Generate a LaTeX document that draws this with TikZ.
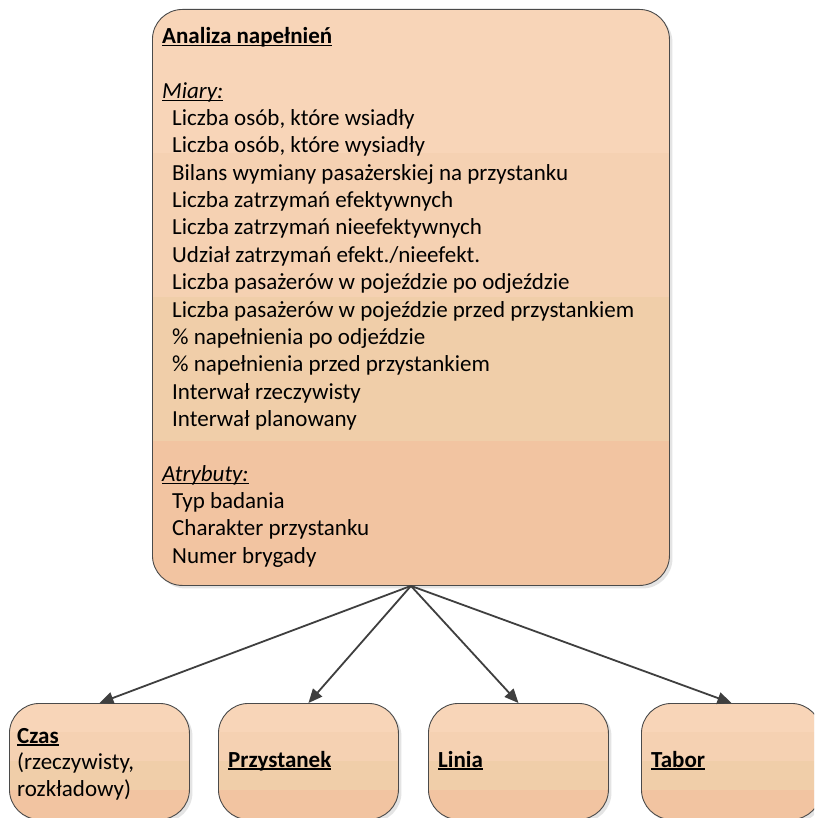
\documentclass[tikz,border=0pt]{standalone}
\usepackage{fontspec}
\setmainfont{Carlito}
\usetikzlibrary{arrows.meta,calc}

\definecolor{bandA}{HTML}{F8D5B8}
\definecolor{bandB}{HTML}{F5D1B2}
\definecolor{bandC}{HTML}{F0CEA9}
\definecolor{bandD}{HTML}{F2C4A1}
\definecolor{edgegray}{HTML}{4A4A4A}
\definecolor{arrowgray}{HTML}{3F3F3F}
\definecolor{shadowgray}{HTML}{E4E4E4}

% underline at a fixed depth below the baseline
\newsavebox\ulbox
\newcommand{\ulin}[1]{\sbox\ulbox{#1}\rlap{\rule[-2.8pt]{\wd\ulbox}{1.4pt}}\usebox\ulbox}

\tikzset{
  bands/.style={path picture={
    \path (path picture bounding box.north west) coordinate (ppNW)
          (path picture bounding box.south east) coordinate (ppSE);
    \foreach \c [count=\k from 0] in {bandA,bandB,bandC,bandD}{
      \pgfmathsetmacro\ta{\k/4}
      \pgfmathsetmacro\tb{(\k+1)/4}
      \fill[\c, sharp corners] ($(ppNW)!\ta!(ppNW|-ppSE)$) rectangle ($(ppSE|-ppNW)!\tb!(ppSE)$);
    }}},
  entity/.style={draw=edgegray, line width=0.9pt, rounded corners=30pt,
    inner sep=0pt, anchor=north west, bands,
    preaction={fill=shadowgray, transform canvas={shift={(3pt,-3pt)}}}},
  txt/.style={anchor=base west, inner sep=0pt,
    font=\fontsize{23}{27.35}\selectfont},
  conn/.style={draw=arrowgray, line width=1.8pt,
    -{Triangle[length=14pt,width=12pt]}},
}

\begin{document}
\begin{tikzpicture}[x=1pt,y=-1pt]
  \clip (0,0) rectangle (814,818);
  \fill[white] (0,0) rectangle (814,818);

  % fact box
  \node[entity, minimum width=517pt, minimum height=576pt] (fact) at (152,9) {};
  \node[txt] (title) at (162,43.5) {\ulin{\textbf{Analiza napełnień}}};
  \node[txt] (miary) at (162,{43.5+27.35*2}) {\ulin{\textit{Miary:}}};
  \foreach \t [count=\i from 3] in {
      {Liczba osób, które wsiadły},
      {Liczba osób, które wysiadły},
      {Bilans wymiany pasażerskiej na przystanku},
      {Liczba zatrzymań efektywnych},
      {Liczba zatrzymań nieefektywnych},
      {Udział zatrzymań efekt./nieefekt.},
      {Liczba pasażerów w pojeździe po odjeździe},
      {Liczba pasażerów w pojeździe przed przystankiem},
      {\% napełnienia po odjeździe},
      {\% napełnienia przed przystankiem},
      {Interwał rzeczywisty},
      {Interwał planowany}}
    \node[txt] (m\i) at (172,{43.5+27.35*\i}) {\t};
  \node[txt] (atrybuty) at (162,{43.5+27.35*16}) {\ulin{\textit{Atrybuty:}}};
  \foreach \t [count=\i from 17] in {
      {Typ badania},
      {Charakter przystanku},
      {Numer brygady}}
    \node[txt] (a\i) at (172,{43.5+27.35*\i}) {\t};

  % dimension boxes
  \node[entity, minimum width=180pt, minimum height=116pt] (czas) at (9,703) {};
  \node[entity, minimum width=180pt, minimum height=116pt] (przystanek) at (218,703) {};
  \node[entity, minimum width=180pt, minimum height=116pt] (linia) at (428,703) {};
  \node[entity, minimum width=180pt, minimum height=116pt] (tabor) at (641,703) {};

  \node[txt] (czasT) at (17,743) {\ulin{\textbf{Czas}}};
  \node[txt] (czasA) at (17,769.5) {(rzeczywisty,};
  \node[txt] (czasB) at (17,796) {rozkładowy)};
  \node[txt] (przystanekT) at (228,767) {\ulin{\textbf{Przystanek}}};
  \node[txt] (liniaT) at (438,767) {\ulin{\textbf{Linia}}};
  \node[txt] (taborT) at (651,767) {\ulin{\textbf{Tabor}}};

  % connectors
  \draw[conn] (fact.south) -- (czas.north);
  \draw[conn] (fact.south) -- (przystanek.north);
  \draw[conn] (fact.south) -- (linia.north);
  \draw[conn] (fact.south) -- (tabor.north);
\end{tikzpicture}
\end{document}
